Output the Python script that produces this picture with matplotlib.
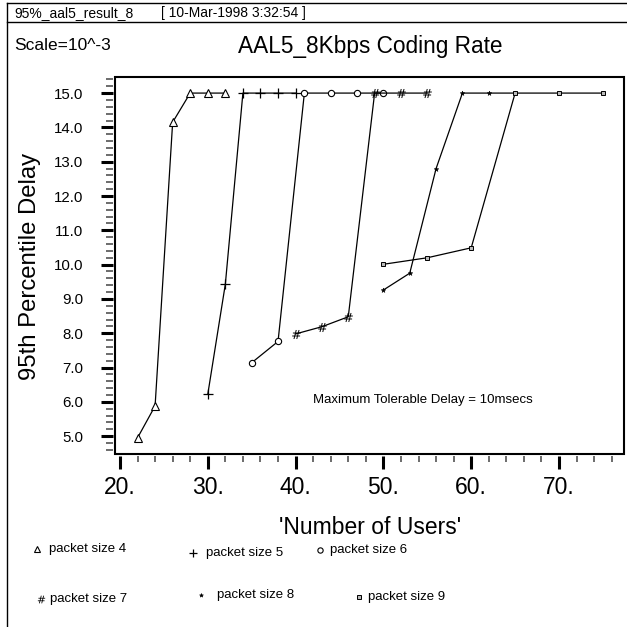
import matplotlib
matplotlib.use("Agg")
import matplotlib.pyplot as plt
from matplotlib.lines import Line2D
from matplotlib.patches import Rectangle
from matplotlib.ticker import FixedLocator, FuncFormatter
import numpy as np

plt.rcParams['font.family'] = ['Liberation Sans', 'DejaVu Sans']

# ---- data ----
users_ps4 = [22, 24, 26, 28, 30, 32]
delay_ps4 = [4.95, 5.88, 14.15, 15.0, 15.0, 15.0]

users_ps5 = [30, 32, 34, 36, 38, 40]
delay_ps5 = [6.22, 9.43, 15.0, 15.0, 15.0, 15.0]

users_ps6 = [35, 38, 41, 44, 47, 50]
delay_ps6 = [7.14, 7.76, 15.0, 15.0, 15.0, 15.0]

users_ps7 = [40, 43, 46, 49, 52, 55]
delay_ps7 = [7.98, 8.19, 8.48, 15.0, 15.0, 15.0]

users_ps8 = [50, 53, 56, 59, 62, 65]
delay_ps8 = [9.26, 9.75, 12.8, 15.0, 15.0, 15.0]

users_ps9 = [50, 55, 60, 65, 70, 75]
delay_ps9 = [10.01, 10.2, 10.49, 15.0, 15.0, 15.0]

series_labels = ["packet size 4", "packet size 5", "packet size 6",
                 "packet size 7", "packet size 8", "packet size 9"]
x_major_ticks = [20, 30, 40, 50, 60, 70]
y_major_ticks = [5.0, 6.0, 7.0, 8.0, 9.0, 10.0, 11.0, 12.0, 13.0, 14.0, 15.0]

title_text = "AAL5_8Kbps Coding Rate"
scale_text = "Scale=10^-3"
header_name = "95%_aal5_result_8"
header_date = "[ 10-Mar-1998 3:32:54 ]"
xlabel_text = "'Number of Users'"
ylabel_text = "95th Percentile Delay"
note_text = "Maximum Tolerable Delay = 10msecs"

W = H = 627.0
fig = plt.figure(figsize=(6.27, 6.27), dpi=100)

def fx(px):
    return px / W

def fy(py):
    return 1 - py / H

ax = fig.add_axes([fx(114.7), fy(454), fx(624) - fx(114.7), fy(77.3) - fy(454)])

styles = [
    dict(marker='^', ms=5.5, mfc='white', mec='black', mew=0.8),
    dict(marker='+', ms=7, mec='black', mew=0.9),
    dict(marker='o', ms=4.5, mfc='white', mec='black', mew=0.8),
    dict(marker='$\\#$', ms=6.5, mec='black', mfc='black', mew=0.0),
    dict(marker='*', ms=3.5, mfc='black', mec='black', mew=0.4),
    dict(marker='s', ms=2.8, mfc='#bbbbbb', mec='black', mew=0.7),
]
data = [(users_ps4, delay_ps4), (users_ps5, delay_ps5), (users_ps6, delay_ps6),
        (users_ps7, delay_ps7), (users_ps8, delay_ps8), (users_ps9, delay_ps9)]

for (xs, ys), st in zip(data, styles):
    ax.plot(xs, ys, color='black', lw=0.9, **st)

ax.set_xlim(19.4, 77.4)
ax.set_ylim(4.48, 15.46)

# ticks
ax.xaxis.set_major_locator(FixedLocator(x_major_ticks))
ax.xaxis.set_minor_locator(FixedLocator(np.arange(20, 77, 2)))
ax.xaxis.set_major_formatter(FuncFormatter(lambda v, p: "%d." % v))
ax.yaxis.set_major_locator(FixedLocator(y_major_ticks))
ax.yaxis.set_minor_locator(FixedLocator(np.arange(4.6, 15.41, 0.2)))
ax.yaxis.set_major_formatter(FuncFormatter(lambda v, p: "%.1f" % v))

for s in ax.spines.values():
    s.set_visible(False)
ax.spines['left'].set_position(('outward', 1.5))
ax.spines['bottom'].set_position(('outward', 1.5))
ax.add_patch(Rectangle((0, 0), 1, 1, transform=ax.transAxes, fill=False,
                       lw=1.5, edgecolor='black', clip_on=False, zorder=5))

ax.tick_params(axis='y', which='major', direction='out', length=9, width=2.2,
               labelsize=10.8, pad=12)
ax.tick_params(axis='y', which='minor', direction='out', length=5, width=1.1,
               color='#444444')
ax.tick_params(axis='x', which='major', direction='out', length=9, width=2.2,
               labelsize=16.5, pad=5)
ax.tick_params(axis='x', which='minor', direction='out', length=4.5, width=1.1,
               color='#444444')

ax.text(fx(423), fy(400), note_text, transform=fig.transFigure,
        ha='center', va='center', fontsize=9.5)

# figure texts
fig.text(fx(14), fy(13), header_name, fontsize=10, va='center', ha='left')
fig.text(fx(161), fy(13), header_date, fontsize=10, va='center', ha='left')
fig.text(fx(14), fy(46), scale_text, fontsize=12.5, va='center', ha='left')
fig.text(fx(370), fy(46), title_text, fontsize=16.3, va='center', ha='center')
fig.text(fx(370), fy(527), xlabel_text, fontsize=16.5, va='center', ha='center')
fig.text(fx(30), fy(266), ylabel_text, fontsize=17.2, va='center', ha='center',
         rotation=90)

# frame lines
fig.add_artist(Line2D([fx(7), fx(7)], [0, fy(3)], transform=fig.transFigure,
                      color='black', lw=1.0))
fig.add_artist(Line2D([fx(7), 1], [fy(3), fy(3)], transform=fig.transFigure,
                      color='black', lw=1.0))
fig.add_artist(Line2D([fx(7), 1], [fy(22), fy(22)], transform=fig.transFigure,
                      color='black', lw=1.0))

# legend entries
legend_pos = [(37, 549, 49), (193, 553, 206), (320, 550, 330),
              (41, 599, 50), (201, 595, 217), (359, 597, 368)]
for (mx, my, tx), st, lab in zip(legend_pos, styles, series_labels):
    st2 = dict(st)
    st2['ms'] = st2['ms'] * 0.85
    fig.add_artist(Line2D([fx(mx)], [fy(my)], transform=fig.transFigure,
                          linestyle='none', **st2))
    fig.text(fx(tx), fy(my), lab, fontsize=9.5, va='center', ha='left')

fig.savefig("out.png", dpi=100)
